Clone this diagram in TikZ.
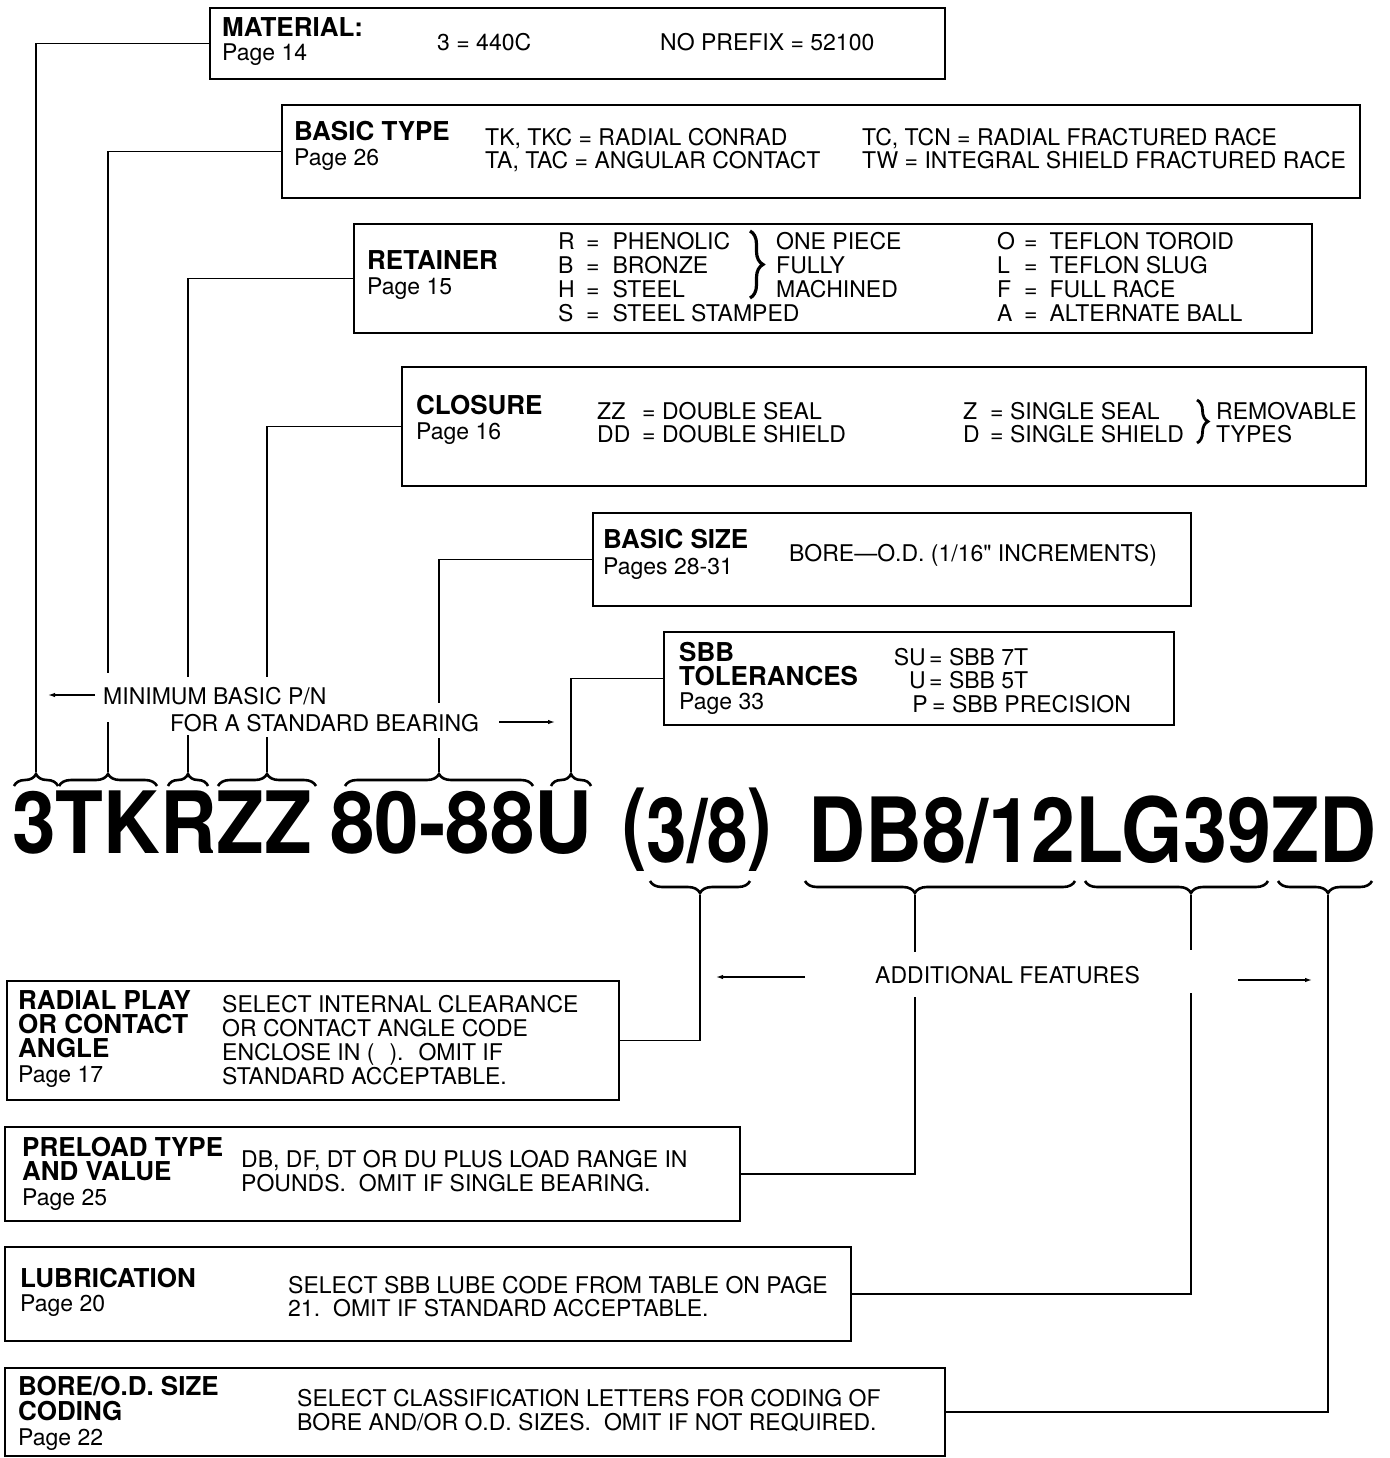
\documentclass[tikz,border=0pt]{standalone}
\usepackage{fontspec}
\setmainfont{TeX Gyre Heros}
\usepackage{graphicx}
\usetikzlibrary{decorations.pathreplacing,arrows.meta}
\begin{document}
\begin{tikzpicture}[x=1pt,y=-1pt,
  box/.style={draw,line width=2pt,inner sep=0,outer sep=0,anchor=north west},
  hd/.style={anchor=base west,inner sep=0,font=\fontsize{26}{26}\selectfont\bfseries},
  tx/.style={anchor=base west,inner sep=0,font=\fontsize{23}{24}\selectfont},
  txr/.style={anchor=base east,inner sep=0,font=\fontsize{23}{24}\selectfont},
  con/.style={line width=1.6pt},
  arr/.style={line width=1.3pt,-{Latex[length=7pt,width=4.5pt]}},
  ubrace/.style={decorate,decoration={brace,amplitude=12pt,aspect=#1},line width=2.6pt},
  ubrace/.default=0.5,
  big/.style={anchor=base west,inner sep=0},
]
\useasboundingbox (0,0) rectangle (1389,1458);

% ---------- boxes ----------
\node[box,minimum width=735pt,minimum height=71pt]  (bmat)  at (210,8) {};
\node[box,minimum width=1078pt,minimum height=93pt] (bbt)   at (282,105) {};
\node[box,minimum width=958pt,minimum height=109pt] (bret)  at (354,224) {};
\node[box,minimum width=964pt,minimum height=119pt] (bclo)  at (402,367) {};
\node[box,minimum width=598pt,minimum height=93pt]  (bsize) at (593,513) {};
\node[box,minimum width=510pt,minimum height=93pt]  (bsbb)  at (664,632) {};
\node[box,minimum width=612pt,minimum height=119pt] (brad)  at (7,981) {};
\node[box,minimum width=735pt,minimum height=94pt]  (bpre)  at (5,1127) {};
\node[box,minimum width=846pt,minimum height=94pt]  (blub)  at (5,1247) {};
\node[box,minimum width=940pt,minimum height=88pt]  (bbore) at (5,1368) {};

% ---------- MATERIAL ----------
\node[hd] (matH) at (222,37) {MATERIAL:};
\node[tx] (matP) at (222,61) {Page 14};
\node[tx] (matA) at (437,51) {3 = 440C};
\node[tx] (matB) at (660,51) {NO PREFIX = 52100};

% ---------- BASIC TYPE ----------
\node[hd] (btH) at (294,141) {BASIC TYPE};
\node[tx] (btP) at (294,166) {Page 26};
\node[tx] (btA) at (485,146) {TK, TKC = RADIAL CONRAD};
\node[tx] (btB) at (485,169) {TA, TAC = ANGULAR CONTACT};
\node[tx] (btC) at (862,146) {TC, TCN = RADIAL FRACTURED RACE};
\node[tx] (btD) at (862,169) {TW = INTEGRAL SHIELD FRACTURED RACE};

% ---------- RETAINER ----------
\node[hd] (reH) at (367,269) {RETAINER};
\node[tx] (reP) at (367,294) {Page 15};
\node[tx] (reL1) at (558,249) {R};
\node[tx] (reL2) at (558,273) {B};
\node[tx] (reL3) at (558,297) {H};
\node[tx] (reL4) at (558,321) {S};
\node[tx] (reV1) at (586,249) {=\hspace{13pt}PHENOLIC};
\node[tx] (reV2) at (586,273) {=\hspace{13pt}BRONZE};
\node[tx] (reV3) at (586,297) {=\hspace{13pt}STEEL};
\node[tx] (reV4) at (586,321) {=\hspace{13pt}STEEL STAMPED};
\node[tx] (reM1) at (776,249) {ONE PIECE};
\node[tx] (reM2) at (776,273) {FULLY};
\node[tx] (reM3) at (776,297) {MACHINED};
\draw[ubrace,line width=3.2pt,decoration={amplitude=13pt}] (750,231) -- (750,298);
\node[tx] (reR1) at (997,249) {O};
\node[tx] (reR2) at (997,273) {L};
\node[tx] (reR3) at (997,297) {F};
\node[tx] (reR4) at (997,321) {A};
\node[tx] (reW1) at (1024,249) {=\hspace{12pt}TEFLON TOROID};
\node[tx] (reW2) at (1024,273) {=\hspace{12pt}TEFLON SLUG};
\node[tx] (reW3) at (1024,297) {=\hspace{12pt}FULL RACE};
\node[tx] (reW4) at (1024,321) {=\hspace{12pt}ALTERNATE BALL};

% ---------- CLOSURE ----------
\node[hd] (clH) at (416,414) {CLOSURE};
\node[tx] (clP) at (416,439) {Page 16};
\node[tx] (clL1) at (597,419) {ZZ};
\node[tx] (clL2) at (597,442) {DD};
\node[tx] (clV1) at (642,419) {= DOUBLE SEAL};
\node[tx] (clV2) at (642,442) {= DOUBLE SHIELD};
\node[tx] (clR1) at (963,419) {Z};
\node[tx] (clR2) at (963,442) {D};
\node[tx] (clW1) at (990,419) {= SINGLE SEAL};
\node[tx] (clW2) at (990,442) {= SINGLE SHIELD};
\draw[ubrace,line width=2.8pt,decoration={amplitude=11pt}] (1197,400) -- (1197,443);
\node[tx] (clT1) at (1216,419) {REMOVABLE};
\node[tx] (clT2) at (1216,442) {TYPES};

% ---------- BASIC SIZE ----------
\node[hd] (bsH) at (603,548) {BASIC SIZE};
\node[tx] (bsP) at (603,574) {Pages 28-31};
\node[tx] (bsA) at (789,561) {BORE—O.D. (1/16{\addfontfeature{Ligatures=TeXOff}"} INCREMENTS)};

% ---------- SBB TOLERANCES ----------
\node[hd] (sbH1) at (679,661) {SBB};
\node[hd] (sbH2) at (679,685) {TOLERANCES};
\node[tx] (sbP) at (679,709) {Page 33};
\node[txr] (sbL1) at (926,665) {SU};
\node[txr] (sbL2) at (926,688) {U};
\node[txr] (sbL3) at (928,712) {P};
\node[tx] (sbV1) at (929,665) {= SBB 7T};
\node[tx] (sbV2) at (929,688) {= SBB 5T};
\node[tx] (sbV3) at (932,712) {= SBB PRECISION};

% ---------- minimum basic P/N ----------
\node[tx] (minA) at (103,704) {MINIMUM BASIC P/N};
\node[tx] (minB) at (170,731) {FOR A STANDARD BEARING};
\coordinate (a1s) at (95,695);  \coordinate (a1e) at (48,695);
\coordinate (a2s) at (499,722); \coordinate (a2e) at (555,722);
\draw[arr] (a1s) -- (a1e);
\draw[arr] (a2s) -- (a2e);

% ---------- part number ----------
\node[big] (pn1) at (12,853) {\resizebox{300pt}{\height}{\fontsize{86}{86}\selectfont\bfseries 3TKRZZ}};
\node[big] (pn2) at (330,853) {\resizebox{262pt}{\height}{\fontsize{86}{86}\selectfont\bfseries 80-88U}};
\node[big] (pn3) at (622,862) {\resizebox{150pt}{\height}{\fontsize{90}{90}\selectfont\bfseries \raisebox{9pt}{(}3/8\raisebox{9pt}{)}}};
\node[big] (pn4) at (808,862) {\resizebox{568pt}{\height}{\fontsize{90}{90}\selectfont\bfseries DB8/12LG39ZD}};

% ---------- upper braces ----------
\draw[ubrace] (14,786) -- (58,786);
\draw[ubrace] (59,786) -- (157,786);
\draw[ubrace] (168,786) -- (208,786);
\draw[ubrace] (218,786) -- (316,786);
\draw[ubrace] (345,786) -- (533,786);
\draw[ubrace] (551,786) -- (591,786);
\coordinate (t1) at (36,772);
\coordinate (t2) at (108,772);
\coordinate (t3) at (188,772);
\coordinate (t4) at (267,772);
\coordinate (t5) at (439,772);
\coordinate (t6) at (571,772);
\coordinate (g2a) at (108,673); \coordinate (g2b) at (108,722);
\coordinate (g3a) at (188,677); \coordinate (g3b) at (188,735);
\coordinate (g4a) at (267,677); \coordinate (g4b) at (267,737);
\coordinate (g5a) at (439,703); \coordinate (g5b) at (439,738);

\draw[con] (bmat.west) -| (t1);
\draw[con] (bbt.west) -| (g2a);  \draw[con] (g2b) -- (t2);
\draw[con] (bret.west) -| (g3a); \draw[con] (g3b) -- (t3);
\draw[con] (bclo.west) -| (g4a); \draw[con] (g4b) -- (t4);
\draw[con] (bsize.west) -| (g5a); \draw[con] (g5b) -- (t5);
\draw[con] (bsbb.west) -| (t6);

% ---------- lower braces ----------
\draw[ubrace] (750,881) -- (650,881);
\draw[ubrace=0.593] (1075,881) -- (805,881);
\draw[ubrace=0.421] (1268,881) -- (1085,881);
\draw[ubrace=0.468] (1372,881) -- (1278,881);
\coordinate (t7) at (700,895);
\coordinate (t8) at (915,895);
\coordinate (t9) at (1191,895);
\coordinate (t10) at (1328,895);
\coordinate (g8a) at (915,952); \coordinate (g8b) at (915,997);
\coordinate (g9a) at (1191,950); \coordinate (g9b) at (1191,993);

\draw[con] (t7) |- (brad.east);
\draw[con] (t8) -- (g8a); \draw[con] (g8b) |- (bpre.east);
\draw[con] (t9) -- (g9a); \draw[con] (g9b) |- (blub.east);
\draw[con] (t10) |- (bbore.east);

% ---------- additional features ----------
\node[tx] (addF) at (875,983) {ADDITIONAL FEATURES};
\coordinate (a3s) at (805,977);  \coordinate (a3e) at (716,977);
\coordinate (a4s) at (1238,980); \coordinate (a4e) at (1312,980);
\draw[arr] (a3s) -- (a3e);
\draw[arr] (a4s) -- (a4e);

% ---------- RADIAL PLAY ----------
\node[hd] (raH1) at (18,1009) {RADIAL PLAY};
\node[hd] (raH2) at (18,1033) {OR CONTACT};
\node[hd] (raH3) at (18,1057) {ANGLE};
\node[tx] (raP) at (18,1082) {Page 17};
\node[tx] (raA) at (222,1012) {SELECT INTERNAL CLEARANCE};
\node[tx] (raB) at (222,1036) {OR CONTACT ANGLE CODE};
\node[tx] (raC) at (222,1060) {ENCLOSE IN (\hspace{15pt}).\hspace{15pt}OMIT IF};
\node[tx] (raD) at (222,1084) {STANDARD ACCEPTABLE.};

% ---------- PRELOAD ----------
\node[hd] (prH1) at (22,1156) {PRELOAD TYPE};
\node[hd] (prH2) at (22,1180) {AND VALUE};
\node[tx] (prP) at (22,1205) {Page 25};
\node[tx] (prA) at (241,1167) {DB, DF, DT OR DU PLUS LOAD RANGE IN};
\node[tx] (prB) at (241,1191) {POUNDS.\hspace{13pt}OMIT IF SINGLE BEARING.};

% ---------- LUBRICATION ----------
\node[hd] (luH) at (20,1287) {LUBRICATION};
\node[tx] (luP) at (20,1311) {Page 20};
\node[tx] (luA) at (288,1293) {SELECT SBB LUBE CODE FROM TABLE ON PAGE};
\node[tx] (luB) at (288,1316) {21.\hspace{13pt}OMIT IF STANDARD ACCEPTABLE.};

% ---------- BORE/O.D. ----------
\node[hd] (boH1) at (18,1395) {BORE/O.D. SIZE};
\node[hd] (boH2) at (18,1420) {CODING};
\node[tx] (boP) at (18,1445) {Page 22};
\node[tx] (boA) at (297,1406) {SELECT CLASSIFICATION LETTERS FOR CODING OF};
\node[tx] (boB) at (297,1430) {BORE AND/OR O.D. SIZES.\hspace{13pt}OMIT IF NOT REQUIRED.};
\end{tikzpicture}
\end{document}
